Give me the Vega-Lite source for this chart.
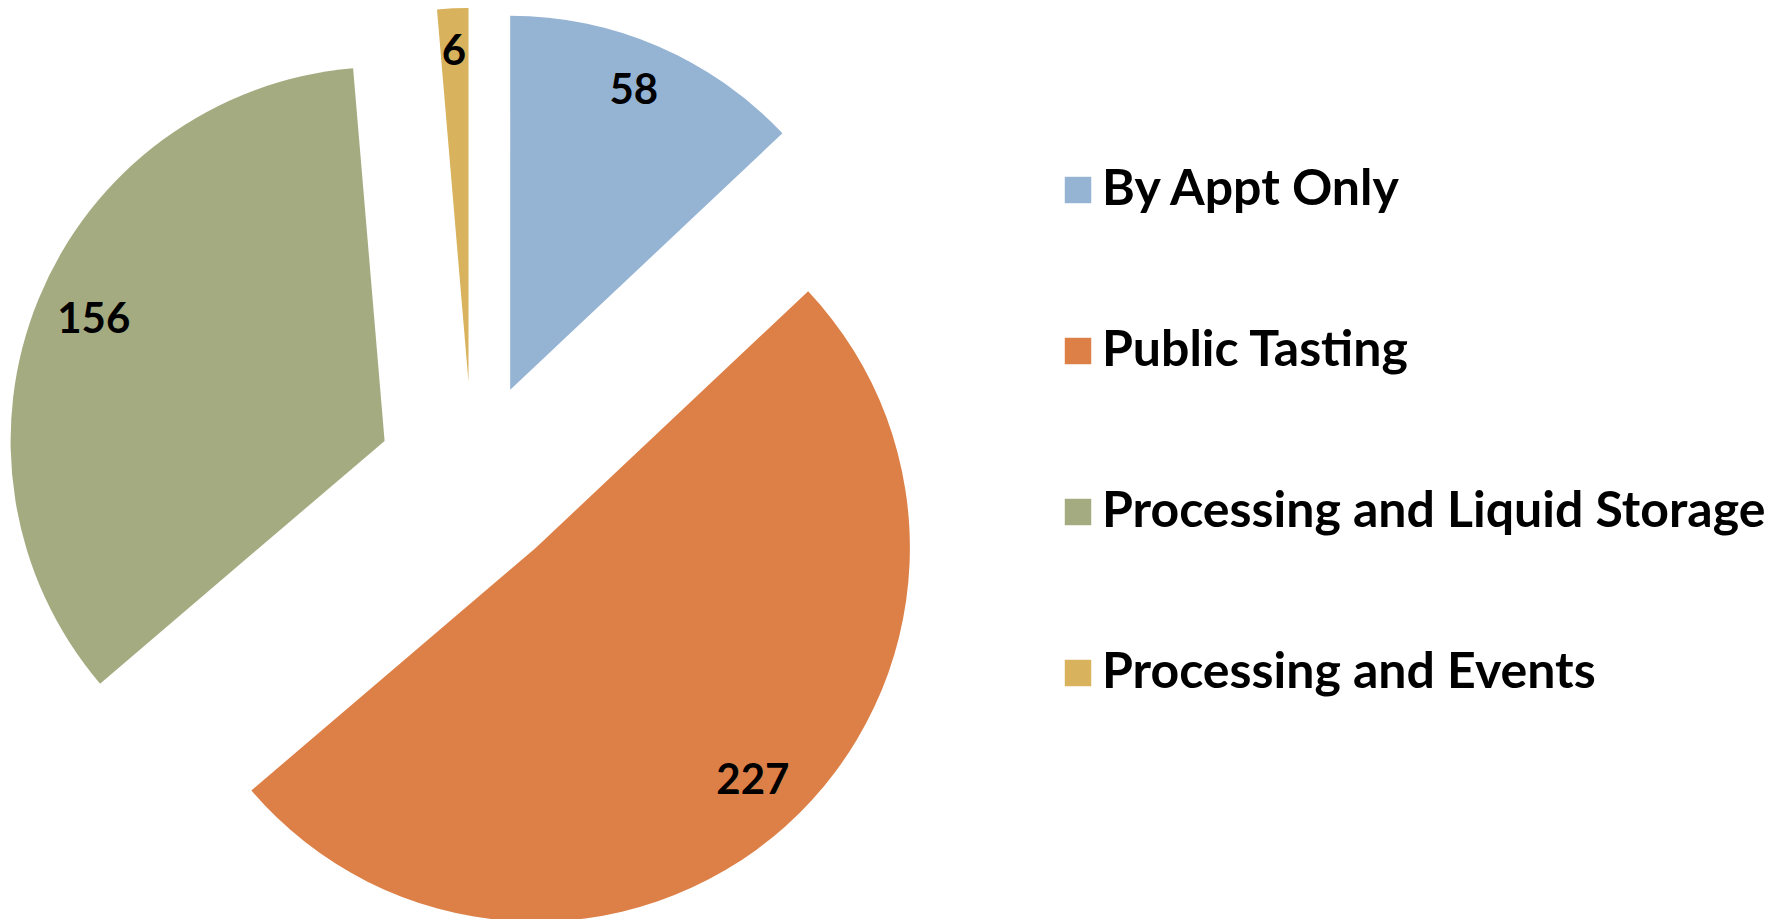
{
  "$schema": "https://vega.github.io/schema/vega-lite/v6.json",
  "width": 945,
  "height": 884,
  "autosize": {"type": "none"},
  "padding": {"left": 0, "top": 35, "right": 830, "bottom": 0},
  "background": "white",
  "config": {"view": {"stroke": null}},
  "data": {"values": [
    {"order": 1, "cat": "By Appt Only", "value": 58},
    {"order": 2, "cat": "Public Tasting", "value": 227},
    {"order": 3, "cat": "Processing and Liquid Storage", "value": 156},
    {"order": 4, "cat": "Processing and Events", "value": 6}
  ]},
  "layer": [
    {
      "transform": [{"stack": "value", "groupby": [], "sort": [{"field": "order"}], "as": ["v0", "v1"]}, {"filter": "datum.cat == 'By Appt Only'"}],
      "mark": {"type": "arc", "radius": 374, "xOffset": 37.7, "yOffset": -87.2},
      "encoding": {
        "theta": {"field": "v0", "type": "quantitative", "scale": {"nice": false, "zero": true}},
        "theta2": {"field": "v1"},
        "color": {"field": "cat", "type": "nominal"}
      }
    },
    {
      "transform": [{"stack": "value", "groupby": [], "sort": [{"field": "order"}], "as": ["v0", "v1"]}, {"filter": "datum.cat == 'Public Tasting'"}],
      "mark": {"type": "arc", "radius": 374, "xOffset": 63.4, "yOffset": 70.7},
      "encoding": {
        "theta": {"field": "v0", "type": "quantitative"},
        "theta2": {"field": "v1"},
        "color": {"field": "cat", "type": "nominal"}
      }
    },
    {
      "transform": [{"stack": "value", "groupby": [], "sort": [{"field": "order"}], "as": ["v0", "v1"]}, {"filter": "datum.cat == 'Processing and Liquid Storage'"}],
      "mark": {"type": "arc", "radius": 374, "xOffset": -87.9, "yOffset": -36.1},
      "encoding": {
        "theta": {"field": "v0", "type": "quantitative"},
        "theta2": {"field": "v1"},
        "color": {"field": "cat", "type": "nominal"}
      }
    },
    {
      "transform": [{"stack": "value", "groupby": [], "sort": [{"field": "order"}], "as": ["v0", "v1"]}, {"filter": "datum.cat == 'Processing and Events'"}],
      "mark": {"type": "arc", "radius": 374, "xOffset": -4.0, "yOffset": -94.9},
      "encoding": {
        "theta": {"field": "v0", "type": "quantitative"},
        "theta2": {"field": "v1"},
        "color": {
          "field": "cat", "type": "nominal",
          "scale": {
            "domain": ["By Appt Only", "Public Tasting", "Processing and Liquid Storage", "Processing and Events"],
            "range": ["#95B3D3", "#DD8047", "#A5AB81", "#D8B25C"]
          },
          "legend": {
            "title": null,
            "orient": "none",
            "legendX": 1053,
            "legendY": 130,
            "padding": 0,
            "symbolType": "square",
            "symbolSize": 700,
            "symbolStrokeWidth": 0,
            "symbolOpacity": 1,
            "labelFont": "Lato",
            "labelFontWeight": "bold",
            "labelFontSize": 50,
            "labelColor": "black",
            "labelOffset": -1,
            "labelLimit": 0,
            "rowPadding": 111
          }
        }
      }
    },
    {
      "mark": {"type": "text", "radius": 327, "xOffset": 31.7, "yOffset": -86, "font": "Lato", "fontWeight": "bold", "fontSize": 42, "color": "black", "baseline": "middle", "align": "center"},
      "encoding": {
        "theta": {"field": "value", "type": "quantitative", "stack": true},
        "order": {"field": "order"},
        "text": {"condition": {"test": "datum.cat == 'By Appt Only'", "field": "value"}, "value": ""}
      }
    },
    {
      "mark": {"type": "text", "radius": 316, "xOffset": 69.4, "yOffset": 68.5, "font": "Lato", "fontWeight": "bold", "fontSize": 42, "color": "black", "baseline": "middle", "align": "center"},
      "encoding": {
        "theta": {"field": "value", "type": "quantitative", "stack": true},
        "order": {"field": "order"},
        "text": {"condition": {"test": "datum.cat == 'Public Tasting'", "field": "value"}, "value": ""}
      }
    },
    {
      "mark": {"type": "text", "radius": 317, "xOffset": -85.6, "yOffset": -36.1, "font": "Lato", "fontWeight": "bold", "fontSize": 42, "color": "black", "baseline": "middle", "align": "center"},
      "encoding": {
        "theta": {"field": "value", "type": "quantitative", "stack": true},
        "order": {"field": "order"},
        "text": {"condition": {"test": "datum.cat == 'Processing and Liquid Storage'", "field": "value"}, "value": ""}
      }
    },
    {
      "mark": {"type": "text", "radius": 336, "xOffset": -4.5, "yOffset": -89.3, "font": "Lato", "fontWeight": "bold", "fontSize": 42, "color": "black", "baseline": "middle", "align": "center"},
      "encoding": {
        "theta": {"field": "value", "type": "quantitative", "stack": true},
        "order": {"field": "order"},
        "text": {"condition": {"test": "datum.cat == 'Processing and Events'", "field": "value"}, "value": ""}
      }
    }
  ]
}
